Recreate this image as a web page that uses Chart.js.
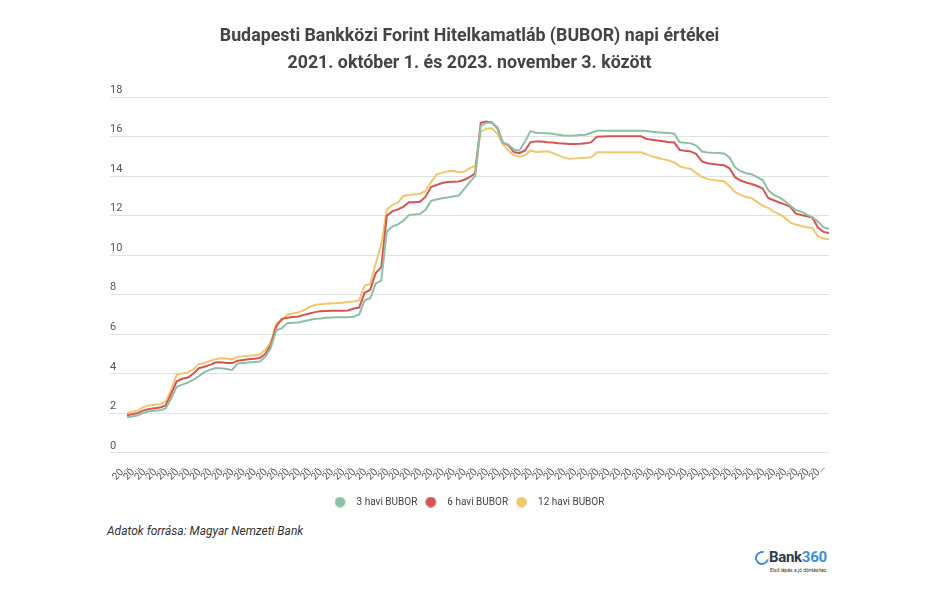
<!DOCTYPE html>
<html lang="hu">
<head>
<meta charset="utf-8">
<title>BUBOR napi értékei</title>
<script src="https://cdn.jsdelivr.net/npm/chart.js@4.4.0/dist/chart.umd.min.js"></script>
<style>
  body { margin: 0; background: #fff; font-family: Roboto, sans-serif; }
  #wrap { position: relative; width: 938px; height: 604px; }
  #chartBox { position: absolute; left: 0; top: 0; width: 938px; height: 517px; }
  #forras { position: absolute; left: 107px; top: 524px; font-size: 12px; font-style: italic; color: #333; }
  #logo { position: absolute; left: 755px; top: 548px; width: 80px; height: 30px; }
  #logo .ikon { position: absolute; left: 0; top: 3px; width: 10px; height: 10px; border: 2px solid #3b8fe0; border-right-color: transparent; border-radius: 50%; transform: rotate(-30deg); }
  #logo .nev { position: absolute; left: 14px; top: 0; font-size: 15px; font-weight: bold; color: #2f3a4c; letter-spacing: -0.3px; }
  #logo .nev span { color: #3b8fe0; }
  #logo .szlogen { position: absolute; left: 15px; top: 19px; font-size: 5px; color: #333; white-space: nowrap; }
</style>
</head>
<body>
<div id="wrap">
  <div id="chartBox"><canvas id="grafikon"></canvas></div>
  <div id="forras">Adatok forrása: Magyar Nemzeti Bank</div>
  <div id="logo">
    <div class="ikon"></div>
    <div class="nev">Bank<span>360</span></div>
    <div class="szlogen">Első lépés a jó döntéshez.</div>
  </div>
</div>
<script>
// cím
const cim = [
  'Budapesti Bankközi Forint Hitelkamatláb (BUBOR) napi értékei',
  '2021. október 1. és 2023. november 3. között'
];

// dátumok (kb. 6 naponként)
const datumok = [
  '2021.10.01', '2021.10.07', '2021.10.13', '2021.10.19', '2021.10.25', '2021.10.31',
  '2021.11.06', '2021.11.12', '2021.11.18', '2021.11.24', '2021.11.30',
  '2021.12.06', '2021.12.12', '2021.12.18', '2021.12.24', '2021.12.30',
  '2022.01.05', '2022.01.11', '2022.01.17', '2022.01.23', '2022.01.29',
  '2022.02.04', '2022.02.10', '2022.02.16', '2022.02.22', '2022.02.28',
  '2022.03.06', '2022.03.12', '2022.03.18', '2022.03.24', '2022.03.30',
  '2022.04.05', '2022.04.11', '2022.04.17', '2022.04.23', '2022.04.29',
  '2022.05.05', '2022.05.11', '2022.05.17', '2022.05.23', '2022.05.29',
  '2022.06.04', '2022.06.10', '2022.06.16', '2022.06.22', '2022.06.28',
  '2022.07.04', '2022.07.10', '2022.07.16', '2022.07.22', '2022.07.28',
  '2022.08.03', '2022.08.09', '2022.08.15', '2022.08.21', '2022.08.27',
  '2022.09.02', '2022.09.08', '2022.09.14', '2022.09.20', '2022.09.26',
  '2022.10.02', '2022.10.08', '2022.10.14', '2022.10.20', '2022.10.26',
  '2022.11.01', '2022.11.07', '2022.11.13', '2022.11.19', '2022.11.25',
  '2022.12.01', '2022.12.07', '2022.12.13', '2022.12.19', '2022.12.25', '2022.12.31',
  '2023.01.06', '2023.01.12', '2023.01.18', '2023.01.24', '2023.01.30',
  '2023.02.05', '2023.02.11', '2023.02.17', '2023.02.23',
  '2023.03.01', '2023.03.07', '2023.03.13', '2023.03.19', '2023.03.25', '2023.03.31',
  '2023.04.06', '2023.04.12', '2023.04.18', '2023.04.24', '2023.04.30',
  '2023.05.06', '2023.05.12', '2023.05.18', '2023.05.24', '2023.05.30',
  '2023.06.05', '2023.06.11', '2023.06.17', '2023.06.23', '2023.06.29',
  '2023.07.05', '2023.07.11', '2023.07.17', '2023.07.23', '2023.07.29',
  '2023.08.04', '2023.08.10', '2023.08.16', '2023.08.22', '2023.08.28',
  '2023.09.03', '2023.09.09', '2023.09.15', '2023.09.21', '2023.09.27',
  '2023.10.03', '2023.10.09', '2023.10.15', '2023.10.21', '2023.10.27',
  '2023.11.03'
];

// 3 havi BUBOR (%)
const bubor3 = [
  1.80, 1.84, 1.90, 2.02, 2.10, 2.13, 2.15, 2.25, 2.75, 3.34,
  3.45, 3.55, 3.70, 3.88, 4.08, 4.20, 4.29, 4.28, 4.24, 4.19,
  4.52, 4.55, 4.57, 4.60, 4.62, 4.85, 5.30, 6.20, 6.30, 6.56,
  6.58, 6.60, 6.66, 6.72, 6.78, 6.80, 6.83, 6.85, 6.86, 6.86,
  6.86, 6.88, 7.00, 7.72, 7.82, 8.57, 8.71, 11.20, 11.45, 11.56,
  11.75, 12.03, 12.06, 12.09, 12.30, 12.75, 12.82, 12.88, 12.92, 12.97,
  13.02, 13.35, 13.70, 14.00, 16.55, 16.70, 16.72, 16.40, 15.70, 15.60,
  15.35, 15.29, 15.75, 16.28, 16.20, 16.18, 16.17, 16.15, 16.10, 16.06,
  16.05, 16.06, 16.08, 16.10, 16.20, 16.30, 16.30, 16.30, 16.30, 16.30,
  16.30, 16.30, 16.30, 16.30, 16.28, 16.25, 16.22, 16.20, 16.18, 16.15,
  15.71, 15.69, 15.66, 15.55, 15.25, 15.20, 15.18, 15.17, 15.15, 14.95,
  14.45, 14.25, 14.15, 14.10, 13.95, 13.80, 13.30, 13.05, 12.93, 12.75,
  12.50, 12.28, 12.20, 12.05, 11.92, 11.70, 11.42, 11.33
];

// 6 havi BUBOR (%)
const bubor6 = [
  1.90, 1.95, 2.02, 2.15, 2.22, 2.26, 2.29, 2.40, 3.00, 3.62,
  3.75, 3.81, 4.00, 4.28, 4.36, 4.45, 4.57, 4.58, 4.55, 4.54,
  4.66, 4.70, 4.73, 4.76, 4.80, 5.00, 5.45, 6.40, 6.78, 6.84,
  6.87, 6.90, 6.98, 7.05, 7.12, 7.17, 7.18, 7.19, 7.19, 7.19,
  7.20, 7.30, 7.35, 8.10, 8.25, 9.10, 9.40, 12.00, 12.22, 12.32,
  12.45, 12.68, 12.68, 12.70, 12.95, 13.45, 13.55, 13.65, 13.70, 13.72,
  13.73, 13.82, 13.95, 14.15, 16.70, 16.76, 16.72, 16.45, 15.70, 15.56,
  15.22, 15.16, 15.30, 15.72, 15.76, 15.75, 15.72, 15.70, 15.67, 15.65,
  15.63, 15.63, 15.64, 15.66, 15.72, 16.00, 16.01, 16.02, 16.02, 16.02,
  16.02, 16.02, 16.02, 16.02, 15.88, 15.84, 15.80, 15.77, 15.73, 15.70,
  15.32, 15.28, 15.25, 15.12, 14.75, 14.65, 14.61, 14.58, 14.55, 14.40,
  13.95, 13.78, 13.68, 13.60, 13.50, 13.38, 12.90, 12.78, 12.67, 12.57,
  12.45, 12.10, 12.03, 11.97, 11.90, 11.40, 11.18, 11.12
];

// 12 havi BUBOR (%)
const bubor12 = [
  2.02, 2.08, 2.15, 2.32, 2.40, 2.43, 2.46, 2.60, 3.20, 3.95,
  4.02, 4.07, 4.22, 4.50, 4.55, 4.65, 4.74, 4.78, 4.77, 4.73,
  4.86, 4.89, 4.91, 4.94, 4.97, 5.20, 5.60, 6.55, 6.68, 7.00,
  7.05, 7.10, 7.22, 7.38, 7.48, 7.52, 7.55, 7.57, 7.58, 7.60,
  7.63, 7.66, 7.72, 8.46, 8.55, 9.58, 10.55, 12.30, 12.55, 12.65,
  13.00, 13.05, 13.08, 13.10, 13.25, 13.70, 14.08, 14.18, 14.24, 14.27,
  14.20, 14.22, 14.40, 14.52, 16.25, 16.40, 16.42, 16.15, 15.60, 15.30,
  15.05, 14.99, 15.05, 15.30, 15.22, 15.24, 15.26, 15.18, 15.05, 14.95,
  14.88, 14.90, 14.92, 14.93, 14.96, 15.21, 15.21, 15.21, 15.21, 15.21,
  15.21, 15.21, 15.21, 15.21, 15.10, 15.00, 14.93, 14.86, 14.80, 14.70,
  14.50, 14.42, 14.36, 14.15, 13.97, 13.85, 13.80, 13.77, 13.74, 13.50,
  13.20, 13.05, 12.95, 12.89, 12.70, 12.50, 12.40, 12.20, 12.08, 11.90,
  11.65, 11.55, 11.48, 11.42, 11.38, 10.95, 10.85, 10.81
];

const sorozatNevek = ['3 havi BUBOR', '6 havi BUBOR', '12 havi BUBOR'];
const szinek = ['#8dc0a7', '#d65454', '#f1c86c'];

Chart.defaults.font.family = 'Roboto, "Noto Sans", sans-serif';
Chart.defaults.color = '#555';

function vonal(nev, adat, szin) {
  return {
    label: nev,
    data: adat,
    borderColor: szin,
    backgroundColor: szin,
    borderWidth: 2,
    pointRadius: 0,
    pointHoverRadius: 0,
    tension: 0,
    fill: false
  };
}

// jelmagyarázat pöttye: kör a bal oldalon, jobbra üres hely a szövegig
function potty(szin) {
  const c = document.createElement('canvas');
  c.width = 17;
  c.height = 11;
  const g = c.getContext('2d');
  g.fillStyle = szin;
  g.beginPath();
  g.arc(5.5, 5.5, 5.3, 0, Math.PI * 2);
  g.fill();
  return c;
}

const ctx = document.getElementById('grafikon').getContext('2d');
const grafikon = new Chart(ctx, {
  type: 'line',
  data: {
    labels: datumok,
    datasets: [
      vonal(sorozatNevek[0], bubor3, szinek[0]),
      vonal(sorozatNevek[1], bubor6, szinek[1]),
      vonal(sorozatNevek[2], bubor12, szinek[2])
    ]
  },
  options: {
    responsive: true,
    maintainAspectRatio: false,
    animation: false,
    layout: { padding: { left: 110, right: 109, top: 0, bottom: 0 } },
    plugins: {
      title: {
        display: true,
        text: cim,
        color: '#444',
        font: { size: 17.8, weight: 'bold', lineHeight: 1.52 },
        padding: { top: 23, bottom: 20 }
      },
      legend: {
        position: 'bottom',
        labels: {
          usePointStyle: true,
          pointStyleWidth: 17,
          boxHeight: 10,
          color: '#444',
          font: { size: 10 },
          padding: 8,
          generateLabels: function(chart) {
            const items = Chart.defaults.plugins.legend.labels.generateLabels(chart);
            items.forEach(function(it, i) { it.pointStyle = potty(szinek[i]); });
            return items;
          }
        }
      },
      tooltip: { enabled: false }
    },
    scales: {
      x: {
        offset: false,
        border: { display: false },
        grid: { display: false },
        ticks: {
          autoSkip: false,
          minRotation: 45,
          maxRotation: 45,
          color: '#555',
          font: { size: 10 },
          padding: 1,
          callback: function(value, index) {
            return index % 2 === 0 ? '20…' : null;
          }
        },
        afterFit: function(scale) { scale.height += 5; }
      },
      y: {
        min: 0,
        max: 18,
        border: { display: false },
        grid: { color: '#e2e2e2', tickLength: 17 },
        ticks: {
          stepSize: 2,
          mirror: true,
          padding: -17,
          labelOffset: -7,
          color: '#555',
          font: { size: 11 }
        },
        afterFit: function(scale) { scale.width = 17; }
      }
    }
  }
});
</script>
</body>
</html>
